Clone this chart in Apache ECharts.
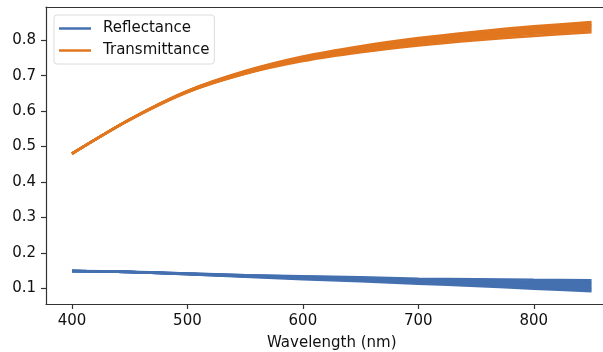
<!DOCTYPE html>
<html><head><meta charset="utf-8">
<script src="https://cdn.jsdelivr.net/npm/echarts@6/dist/echarts.min.js"></script>
<style>html,body{margin:0;padding:0;background:#fff;overflow:hidden}#c{width:603px;height:352px}</style>
</head><body><div id="c"></div>
<script>
const wavelengths = [400, 450, 500, 550, 600, 650, 700, 750, 800, 850];
const xTicks = [400, 500, 600, 700, 800];
const yTicks = [0.1, 0.2, 0.3, 0.4, 0.5, 0.6, 0.7, 0.8];

const R1 = [0.149, 0.147, 0.142, 0.137, 0.134, 0.131, 0.127, 0.126, 0.124, 0.123];
const R2 = [0.149, 0.146, 0.142, 0.137, 0.133, 0.129, 0.125, 0.122, 0.119, 0.117];
const R3 = [0.149, 0.146, 0.141, 0.136, 0.131, 0.127, 0.122, 0.119, 0.115, 0.112];
const R4 = [0.149, 0.146, 0.141, 0.135, 0.130, 0.125, 0.120, 0.116, 0.111, 0.107];
const R5 = [0.149, 0.146, 0.141, 0.134, 0.129, 0.123, 0.118, 0.113, 0.107, 0.102];
const R6 = [0.149, 0.146, 0.140, 0.134, 0.128, 0.122, 0.116, 0.110, 0.103, 0.097];
const R7 = [0.149, 0.146, 0.140, 0.133, 0.126, 0.120, 0.113, 0.107, 0.099, 0.092];

const T1 = [0.480, 0.577, 0.657, 0.713, 0.754, 0.783, 0.806, 0.824, 0.839, 0.851];
const T2 = [0.480, 0.576, 0.656, 0.712, 0.752, 0.780, 0.802, 0.819, 0.834, 0.846];
const T3 = [0.480, 0.576, 0.656, 0.710, 0.750, 0.778, 0.800, 0.816, 0.831, 0.842];
const T4 = [0.480, 0.576, 0.655, 0.709, 0.748, 0.776, 0.797, 0.813, 0.827, 0.838];
const T5 = [0.480, 0.576, 0.654, 0.708, 0.746, 0.773, 0.793, 0.809, 0.822, 0.833];
const T6 = [0.480, 0.576, 0.654, 0.706, 0.744, 0.770, 0.790, 0.805, 0.818, 0.828];
const T7 = [0.480, 0.575, 0.653, 0.705, 0.741, 0.766, 0.785, 0.800, 0.812, 0.822];

const reflectanceLines = [R1, R2, R3, R4, R5, R6, R7];
const transmittanceLines = [T1, T2, T3, T4, T5, T6, T7];

const BLUE = '#4470b0';
const ORANGE = '#e1761f';
const FONT = 'DejaVu Sans';

function mk(name, arr, color) {
  return {
    name: name, type: 'line', showSymbol: false, smooth: 0.3,
    data: wavelengths.map((w, i) => [w, arr[i]]),
    lineStyle: { color: color, width: 2.5 },
    itemStyle: { color: color },
    emphasis: { disabled: true },
    animation: false
  };
}
const series = [];
reflectanceLines.forEach(a => series.push(mk('Reflectance', a, BLUE)));
transmittanceLines.forEach(a => series.push(mk('Transmittance', a, ORANGE)));

const chart = echarts.init(document.getElementById('c'));
chart.setOption({
  animation: false,
  backgroundColor: '#fff',
  grid: { left: 46, top: 7, right: -14.5, bottom: 48, outerBoundsMode: 'none', containLabel: false, show: false },
  legend: {
    data: ['Reflectance', 'Transmittance'],
    orient: 'vertical', left: 54, top: 15,
    icon: 'rect', itemWidth: 32, itemHeight: 2.5, itemGap: 7,
    backgroundColor: '#fff', borderColor: '#dcdcdc', borderWidth: 1, borderRadius: 3,
    padding: [6, 5, 6, 5],
    textStyle: { fontFamily: FONT, fontSize: 15, color: '#111', lineHeight: 15, padding: [0, 0, 0, 7] }
  },
  xAxis: [{
    type: 'value', min: 377.5, max: 872.5, position: 'bottom',
    name: 'Wavelength (nm)', nameLocation: 'middle', nameGap: 32,
    nameTextStyle: { fontFamily: FONT, fontSize: 15, color: '#111' },
    axisLine: { show: true, lineStyle: { color: '#333', width: 1.2 } },
    axisTick: { show: true, length: 5, customValues: xTicks, lineStyle: { color: '#333', width: 1.2 } },
    axisLabel: { customValues: xTicks, fontFamily: FONT, fontSize: 15, color: '#111', margin: 10 },
    splitLine: { show: false }
  }, {
    type: 'value', min: 377.5, max: 872.5, position: 'top',
    axisLine: { show: true, lineStyle: { color: '#333', width: 1.2 } },
    axisTick: { show: false }, axisLabel: { show: false }, splitLine: { show: false }
  }],
  yAxis: {
    type: 'value', min: 0.0559, max: 0.8935,
    axisLine: { show: true, lineStyle: { color: '#333', width: 1.2 } },
    axisTick: { show: true, length: 5, customValues: yTicks, lineStyle: { color: '#333', width: 1.2 } },
    axisLabel: { customValues: yTicks, fontFamily: FONT, fontSize: 15, color: '#111', margin: 10, formatter: v => v.toFixed(1) },
    splitLine: { show: false }
  },
  series: series
});
</script></body></html>
